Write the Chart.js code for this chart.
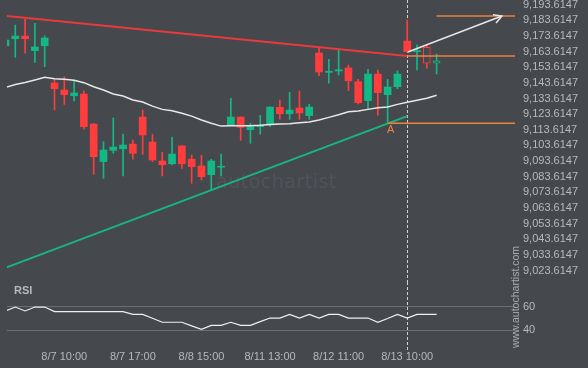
<!DOCTYPE html>
<html>
<head>
<meta charset="utf-8">
<title>Autochartist - triangle breakout</title>
<script src="https://cdn.jsdelivr.net/npm/chart.js@4.4.1/dist/chart.umd.min.js"></script>
<style>
    html, body { margin: 0; padding: 0; background: #45484d; width: 588px; height: 368px; overflow: hidden; }
    #wrap { position: relative; width: 588px; height: 368px; }
    #priceCanvas { position: absolute; left: 0; top: 0; }
    #rsiCanvas { position: absolute; left: 0; top: 282px; }
    #watermark {
        position: absolute; left: 216px; top: 170px;
        font: 19px "DejaVu Sans", sans-serif; letter-spacing: 0.5px;
        color: rgba(255, 255, 255, 0.07);
    }
    #site {
        position: absolute; left: 460px; top: 290px; width: 110px; height: 14px;
        font: 10.5px "Liberation Sans", Arial, sans-serif; line-height: 14px;
        text-align: center; color: #a9acb0;
        transform: rotate(-90deg); transform-origin: 55px 7px;
    }
</style>
</head>
<body>
<div id="wrap">
    <div id="watermark">autochartist</div>
    <canvas id="priceCanvas" width="588" height="282"></canvas>
    <canvas id="rsiCanvas" width="588" height="86"></canvas>
    <div id="site">www.autochartist.com</div>
</div>
<script>
// Hourly candles, index 0..44
const opens  = [9167.4, 9171.9, 9173.6, 9164.3, 9167.4, 9143.6, 9139.1, 9135.4, 9136.5, 9117.3,
                9093.3, 9100.5, 9101.5, 9104.5, 9121.8, 9105.8, 9093.7, 9091.9, 9103.3, 9094.8,
                9090.5, 9084.9, 9089.7, 9116.5, 9121.8, 9113.7, 9115.6, 9117.5, 9128.0, 9123.9,
                9127.6, 9122.7, 9162.8, 9150.4, 9151.3, 9153.2, 9144.4, 9132.3, 9149.3, 9136.1,
                9141.2, 9170.4, 9163.6, 9166.4, 9156.2];
const highs  = [9172.0, 9180.7, 9184.5, 9181.8, 9173.7, 9145.9, 9147.6, 9145.5, 9138.5, 9117.6,
                9106.0, 9121.2, 9110.9, 9107.1, 9126.3, 9110.8, 9099.3, 9109.0, 9103.6, 9097.5,
                9097.3, 9094.8, 9098.1, 9133.8, 9122.0, 9117.8, 9122.9, 9128.4, 9132.7, 9137.6,
                9138.5, 9130.0, 9166.2, 9158.7, 9164.7, 9155.1, 9145.9, 9152.3, 9151.9, 9145.9,
                9151.4, 9183.9, 9167.9, 9167.9, 9162.1];
const lows   = [9167.0, 9160.0, 9162.6, 9156.8, 9154.0, 9126.3, 9129.9, 9132.1, 9114.1, 9085.2,
                9082.6, 9098.6, 9084.1, 9094.8, 9097.9, 9093.3, 9084.1, 9091.1, 9089.0, 9079.4,
                9081.5, 9075.1, 9084.1, 9116.3, 9106.9, 9105.0, 9110.9, 9115.6, 9120.5, 9120.3,
                9120.3, 9120.3, 9148.2, 9143.4, 9148.7, 9138.7, 9130.1, 9126.7, 9122.9, 9117.8,
                9139.9, 9163.4, 9151.9, 9153.0, 9149.3];
const closes = [9171.1, 9173.6, 9171.9, 9166.6, 9172.4, 9139.9, 9136.1, 9137.2, 9115.6, 9096.4,
                9100.7, 9102.6, 9103.9, 9098.6, 9110.3, 9094.3, 9091.3, 9098.1, 9091.9, 9090.0,
                9083.6, 9093.7, 9090.3, 9121.8, 9115.2, 9115.6, 9116.5, 9128.2, 9123.9, 9126.3,
                9124.4, 9128.2, 9150.6, 9151.1, 9152.1, 9145.0, 9131.0, 9149.3, 9137.4, 9141.0,
                9149.3, 9163.6, 9164.2, 9156.2, 9157.7];
// candles drawn as outlines after the breakout
const hollowIdx = [43, 44];

// moving average (white line)
const maValues = [9140.7, 9142.6, 9143.9, 9145.5, 9147.2, 9146.3, 9145.9, 9145.3, 9143.8, 9141.2,
                  9139.1, 9136.5, 9135.2, 9132.7, 9131.4, 9128.8, 9126.7, 9125.8, 9124.2, 9122.4,
                  9119.9, 9117.8, 9116.0, 9116.2, 9116.2, 9116.2, 9116.5, 9117.1, 9117.3, 9117.5,
                  9118.2, 9118.6, 9119.9, 9121.6, 9123.3, 9125.2, 9125.7, 9126.7, 9127.8, 9128.2,
                  9129.9, 9131.2, 9132.5, 9133.8, 9135.7];

// RSI panel
const rsiValues = [56.4, 59.7, 56.4, 59.7, 59.7, 55.8, 55.8, 55.8, 55.8, 55.8,
                   55.8, 55.8, 55.8, 53.5, 53.5, 50.2, 46.8, 46.8, 46.8, 43.8,
                   40.8, 44.2, 44.2, 46.8, 44.2, 44.2, 47.3, 50.4, 50.4, 53.5,
                   50.4, 53.5, 50.4, 53.5, 53.5, 50.4, 50.4, 50.4, 46.8, 50.0,
                   53.5, 50.4, 53.5, 53.5, 53.5];
const rsiTicks = [40, 60];

// pattern lines: [start index, end index] and [start price, end price]
const resistX = [0, 41];
const resistY = [9186.5, 9160.9];
const supportX = [0, 41];
const supportY = [9025.3, 9122.4];
const levelPrices = [9186.4, 9160.8, 9117.8];
const levelStart  = [44, 41, 39];
const arrowX = [41.07, 50.66];
const arrowY = [9163.4, 9186.4];
const pointA = { x: 39, y: 9117.8, label: 'A' };
const breakIdx = 41;

// axes
const priceTicks = [9023.6147, 9033.6147, 9043.6147, 9053.6147, 9063.6147, 9073.6147,
                    9083.6147, 9093.6147, 9103.6147, 9113.6147, 9123.6147, 9133.6147,
                    9143.6147, 9153.6147, 9163.6147, 9173.6147, 9183.6147, 9193.6147];
const xTickIdx = [6, 13, 20, 27, 34, 41];
const xTickLabels = ['8/7 10:00', '8/7 17:00', '8/8 15:00', '8/11 13:00', '8/12 11:00', '8/13 10:00'];

const BG = '#45484d';
const UP = '#14b886';
const DOWN = '#ff3d3d';
const ORANGE = '#f0813e';
const TEXT = '#b6b9bd';
const X_MIN = 0.153, X_MAX = 52;

Chart.defaults.font.family = '"Liberation Sans", Arial, sans-serif';
Chart.defaults.font.size = 11;

function fixedAxis(width) {
    return function(scale) {
        scale.width = width;
        scale.paddingTop = 0;
        scale.paddingBottom = 0;
    };
}

const candleColors = opens.map((o, i) => closes[i] >= o ? UP : DOWN);

// dashed marker at the breakout candle, under the candles
const breakLinePlugin = {
    id: 'breakLine',
    beforeDatasetsDraw(chart, args, opts) {
        const ctx = chart.ctx;
        const x = Math.round(chart.scales.x.getPixelForValue(breakIdx)) + 0.5;
        ctx.save();
        ctx.strokeStyle = '#cfd1d4';
        ctx.lineWidth = 1;
        ctx.setLineDash([3, 2]);
        ctx.beginPath();
        ctx.moveTo(x, 0);
        ctx.lineTo(x, opts.bottom != null ? opts.bottom : chart.height);
        ctx.stroke();
        ctx.restore();
    }
};

const annotPlugin = {
    id: 'annot',
    afterDatasetsDraw(chart) {
        const ctx = chart.ctx;
        const xs = chart.scales.x, ys = chart.scales.y;
        // arrowhead
        const x0 = xs.getPixelForValue(arrowX[0]), y0 = ys.getPixelForValue(arrowY[0]);
        const x1 = xs.getPixelForValue(arrowX[1]), y1 = ys.getPixelForValue(arrowY[1]);
        const ang = Math.atan2(y1 - y0, x1 - x0);
        const len = 9;
        ctx.save();
        ctx.strokeStyle = '#e6e6e6';
        ctx.lineWidth = 1.5;
        ctx.beginPath();
        ctx.moveTo(x1 - len * Math.cos(ang - 0.5), y1 - len * Math.sin(ang - 0.5));
        ctx.lineTo(x1, y1);
        ctx.lineTo(x1 - len * Math.cos(ang + 0.5), y1 - len * Math.sin(ang + 0.5));
        ctx.stroke();
        // point label
        ctx.fillStyle = ORANGE;
        ctx.font = '11px "Liberation Sans", Arial, sans-serif';
        ctx.textAlign = 'center';
        ctx.textBaseline = 'top';
        ctx.fillText(pointA.label, xs.getPixelForValue(pointA.x) + 3, ys.getPixelForValue(pointA.y) + 1);
        ctx.restore();
    }
};

const rsiLabelPlugin = {
    id: 'rsiLabel',
    afterDraw(chart) {
        const ctx = chart.ctx;
        ctx.save();
        ctx.fillStyle = TEXT;
        ctx.font = 'bold 11px "Liberation Sans", Arial, sans-serif';
        ctx.textBaseline = 'middle';
        ctx.fillText('RSI', 14, 9);
        ctx.restore();
    }
};

function lineSet(xs, ys, color, width, order) {
    return {
        type: 'line',
        data: xs.map((x, i) => ({ x: x, y: ys[i] })),
        borderColor: color,
        borderWidth: width,
        pointRadius: 0,
        tension: 0,
        fill: false,
        order: order
    };
}

function initPriceChart() {
    const ctx = document.getElementById('priceCanvas').getContext('2d');
    const idx = opens.map((o, i) => i);

    const datasets = [
        lineSet(arrowX, arrowY, '#e6e6e6', 1.5, 0),
        lineSet(resistX, resistY, '#e8393c', 2, 2),
        lineSet(supportX, supportY, '#17b680', 2, 2),
        lineSet(idx, maValues, '#e8e8e8', 1.5, 3),
        {
            type: 'bar',
            data: idx.map(i => ({ x: i, y: [opens[i], closes[i]] })),
            backgroundColor: idx.map(i => hollowIdx.includes(i) ? BG : candleColors[i]),
            borderColor: candleColors,
            borderWidth: idx.map(i => hollowIdx.includes(i) ? 1 : 0),
            borderSkipped: false,
            barThickness: 7,
            minBarLength: 1,
            grouped: false,
            order: 4
        },
        {
            type: 'bar',
            data: idx.map(i => ({ x: i, y: [lows[i], highs[i]] })),
            backgroundColor: candleColors,
            borderWidth: 0,
            barThickness: 1,
            grouped: false,
            order: 5
        }
    ];
    levelPrices.forEach((p, k) => {
        datasets.push(lineSet([levelStart[k], X_MAX], [p, p], ORANGE, 1.5, 1));
    });

    new Chart(ctx, {
        type: 'bar',
        data: { datasets: datasets },
        options: {
            responsive: false,
            animation: false,
            devicePixelRatio: 1,
            layout: { padding: { left: 7, right: 0, top: 0, bottom: 0 } },
            plugins: {
                legend: { display: false },
                tooltip: { enabled: false },
                breakLine: { bottom: 282 }
            },
            scales: {
                x: {
                    type: 'linear', min: X_MIN, max: X_MAX, offset: false, display: false,
                    grid: { offset: false }
                },
                y: {
                    position: 'right',
                    min: 9016.26, max: 9196.68,
                    afterBuildTicks: axis => { axis.ticks = priceTicks.map(v => ({ value: v })); },
                    afterFit: fixedAxis(73),
                    grid: { display: false, drawTicks: false },
                    border: { display: false },
                    ticks: {
                        color: TEXT,
                        padding: 8,
                        autoSkip: false,
                        callback: v => v.toLocaleString('en-US', { minimumFractionDigits: 4, maximumFractionDigits: 4 })
                    }
                }
            }
        },
        plugins: [breakLinePlugin, annotPlugin]
    });
}

function initRsiChart() {
    const ctx = document.getElementById('rsiCanvas').getContext('2d');
    new Chart(ctx, {
        type: 'line',
        data: {
            datasets: [{
                data: rsiValues.map((v, i) => ({ x: i, y: v })),
                borderColor: '#f0f0f0',
                borderWidth: 1.2,
                pointRadius: 0,
                tension: 0,
                fill: false
            }]
        },
        options: {
            responsive: false,
            animation: false,
            devicePixelRatio: 1,
            layout: { padding: { left: 7, right: 0, top: 0, bottom: 0 } },
            plugins: {
                legend: { display: false },
                tooltip: { enabled: false },
                breakLine: { bottom: 68 }
            },
            scales: {
                x: {
                    type: 'linear', min: X_MIN, max: X_MAX, offset: false,
                    afterBuildTicks: axis => { axis.ticks = xTickIdx.map(v => ({ value: v })); },
                    afterFit: scale => { scale.height = 20; scale.paddingLeft = 0; scale.paddingRight = 0; },
                    grid: { display: false, drawTicks: false },
                    border: { display: false },
                    ticks: {
                        color: TEXT,
                        padding: 2,
                        autoSkip: false,
                        maxRotation: 0,
                        callback: v => xTickLabels[xTickIdx.indexOf(v)]
                    }
                },
                y: {
                    position: 'right',
                    min: 25.0, max: 80.93,
                    afterBuildTicks: axis => { axis.ticks = rsiTicks.map(v => ({ value: v })); },
                    afterFit: fixedAxis(73),
                    grid: { color: '#6a6d72', lineWidth: 1, drawTicks: false },
                    border: { display: false },
                    ticks: { color: TEXT, padding: 8 }
                }
            }
        },
        plugins: [breakLinePlugin, rsiLabelPlugin]
    });
}

document.addEventListener('DOMContentLoaded', () => {
    initPriceChart();
    initRsiChart();
});
</script>
</body>
</html>
